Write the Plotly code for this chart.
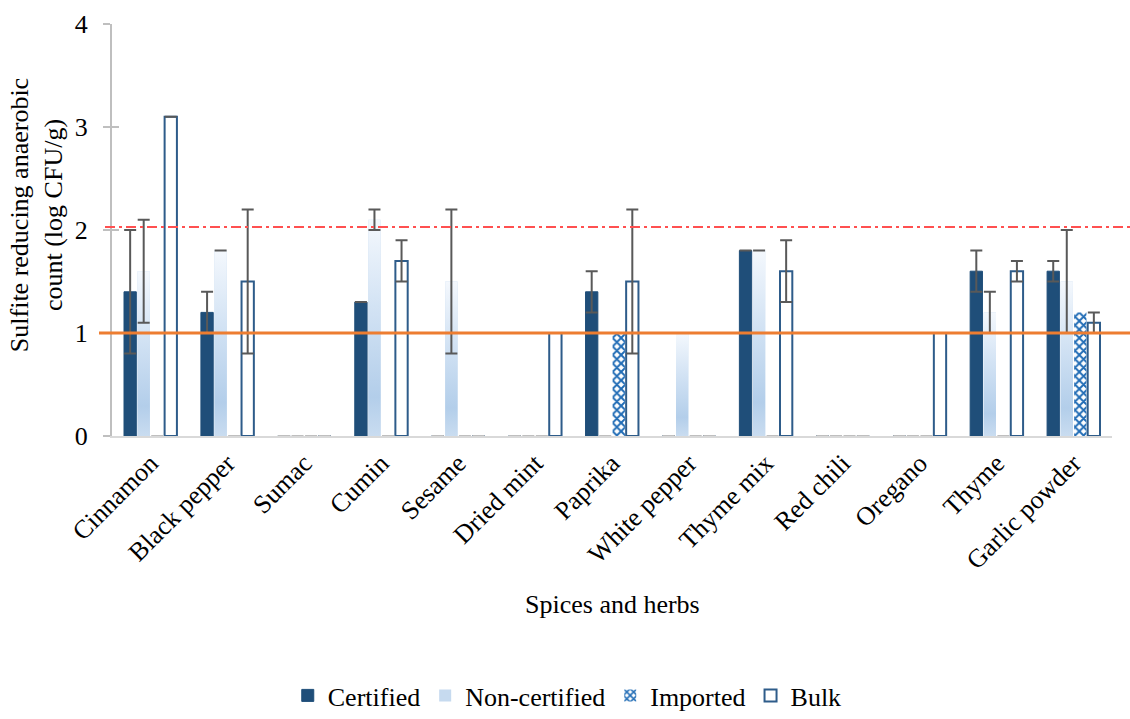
import plotly.graph_objects as go

# ---- data -------------------------------------------------------------
categories = ["Cinnamon", "Black pepper", "Sumac", "Cumin", "Sesame", "Dried mint",
              "Paprika", "White pepper", "Thyme mix", "Red chili", "Oregano",
              "Thyme", "Garlic powder"]

certified = [1.4, 1.2, 0, 1.3, 0, 0, 1.4, 0, 1.8, 0, 0, 1.6, 1.6]
certified_sd = [0.6, 0.2, None, 0, None, None, 0.2, None, 0, None, None, 0.2, 0.1]

non_certified = [1.6, 1.8, 0, 2.1, 1.5, 0, 0, 1.0, 1.8, 0, 0, 1.2, 1.5]
non_certified_sd = [0.5, 0, None, 0.1, 0.7, None, None, None, 0, None, None, 0.2, 0.5]

imported = [0, 0, 0, 0, 0, 0, 1.0, 0, 0, 0, 0, 0, 1.2]
imported_sd = [None] * 13

bulk = [3.1, 1.5, 0, 1.7, 0, 1.0, 1.5, 0, 1.6, 0, 1.0, 1.6, 1.1]
bulk_sd = [0, 0.7, None, 0.2, None, None, 0.7, None, 0.3, None, None, 0.1, 0.1]

detection_limit = 1.0
reference_limit = 2.03

y_ticks = [0, 1, 2, 3, 4]

# ---- styling ------------------------------------------------------------
FONT = "Liberation Serif"
TXT = dict(family=FONT, size=26, color="black")
NAVY = "#1F4E79"
BULK_EDGE = "#2E5C8A"
CHECK = "#1F6BB5"
ERR = "#595959"
STUB = "#BFBFBF"
AXIS = "#BFBFBF"

BAR_W = 0.16
PITCH = 0.176
START = -0.344
idx = list(range(len(categories)))

series = [
    ("Certified", certified, certified_sd),
    ("Non-certified", non_certified, non_certified_sd),
    ("Imported", imported, imported_sd),
    ("Bulk", bulk, bulk_sd),
]

fig = go.Figure()

for k, (name, vals, sd) in enumerate(series):
    off = START + k * PITCH
    if name == "Certified":
        marker = dict(color=NAVY, line=dict(color=NAVY, width=1))
    elif name == "Non-certified":
        marker = dict(color="#C6DAEF", line=dict(width=0))
    elif name == "Imported":
        marker = dict(color="white", line=dict(width=0),
                      pattern=dict(shape="x", fgcolor=CHECK, bgcolor="white",
                                   fgopacity=1, size=6, solidity=0.55,
                                   fillmode="replace"))
    else:
        marker = dict(color="white", line=dict(color=BULK_EDGE, width=2))
    fig.add_trace(go.Bar(
        x=idx, y=vals, name=name, offset=off, width=BAR_W,
        marker=marker, hoverinfo="skip",
    ))

# vertical white-to-blue gradient fill of each non-certified bar
nc_off = START + 1 * PITCH
for i, v in zip(idx, non_certified):
    if v <= 0:
        continue
    x0, x1 = i + nc_off, i + nc_off + BAR_W
    fig.add_trace(go.Scatter(
        x=[x0, x1, x1, x0, x0], y=[0, 0, v, v, 0],
        mode="lines", fill="toself", line=dict(width=0, color="rgba(0,0,0,0)"),
        fillgradient=dict(type="vertical", start=0, stop=v,
                          colorscale=[[0, "#C9DCF0"], [0.18, "#B3CEEA"],
                                      [0.6, "#D3E3F4"], [1, "#F4F8FD"]]),
        showlegend=False, hoverinfo="skip",
    ))

# error bars (drawn on top of the bars) and baseline stubs for zero values
for k, (name, vals, sd) in enumerate(series):
    centre = START + k * PITCH + BAR_W / 2
    ex = [i + centre for i, s in zip(idx, sd) if s is not None]
    ey = [v for v, s in zip(vals, sd) if s is not None]
    es = [s for s in sd if s is not None]
    if ex:
        fig.add_trace(go.Scatter(
            x=ex, y=ey, mode="markers", marker=dict(size=1, opacity=0),
            error_y=dict(type="data", array=es, symmetric=True,
                         color=ERR, thickness=2, width=6),
            showlegend=False, hoverinfo="skip",
        ))
    zx = [i + centre for i, v in zip(idx, vals) if v == 0]
    if zx:
        fig.add_trace(go.Scatter(
            x=zx, y=[0] * len(zx), mode="markers", marker=dict(size=1, opacity=0),
            error_y=dict(type="data", array=[0] * len(zx), color=STUB,
                         thickness=2, width=6),
            showlegend=False, hoverinfo="skip",
        ))

# helper trace so the inner tick axis is drawn
fig.add_trace(go.Scatter(x=[0], y=[0], yaxis="y2", mode="markers",
                         marker=dict(size=1, opacity=0),
                         showlegend=False, hoverinfo="skip"))

# limit lines
fig.add_shape(type="line", xref="paper", yref="y", x0=-0.013, x1=1.02,
              y0=detection_limit, y1=detection_limit,
              line=dict(color="#ED7D31", width=3))
fig.add_shape(type="line", xref="paper", yref="y", x0=-0.007, x1=1.02,
              y0=reference_limit, y1=reference_limit,
              line=dict(color="#FF5050", width=2, dash="10px,4px,3px,4px"))

fig.update_layout(
    width=1130, height=719,
    margin=dict(l=112, r=18, t=24, b=283, autoexpand=False),
    paper_bgcolor="white", plot_bgcolor="white",
    barmode="overlay",
    font=TXT,
    showlegend=True,
    legend=dict(orientation="h", xref="container", yref="container",
                x=0.502, xanchor="center", y=-0.01, yanchor="bottom",
                font=TXT, itemwidth=30, borderwidth=0,
                traceorder="normal", bgcolor="rgba(0,0,0,0)"),
    xaxis=dict(range=[-0.5, 12.5], tickvals=idx, ticktext=categories,
               tickangle=-45, showgrid=False, zeroline=False, ticks="",
               showline=True, linecolor="#D9D9D9", linewidth=1.5,
               tickfont=TXT, automargin=False),
    yaxis=dict(range=[0, 4], tickvals=y_ticks, showgrid=False, zeroline=False,
               showline=True, linecolor=AXIS, linewidth=2,
               ticks="outside", ticklen=7, tickwidth=2, tickcolor=AXIS,
               ticklabelstandoff=10, tickfont=TXT, automargin=False),
    yaxis2=dict(range=[0, 4], tickvals=y_ticks, overlaying="y", side="left",
                anchor="x", showgrid=False, zeroline=False, showline=False,
                ticks="inside", ticklen=7, tickwidth=2, tickcolor=AXIS,
                showticklabels=False, automargin=False),
    annotations=[
        dict(text="Sulfite reducing anaerobic<br>count (log CFU/g)",
             xref="paper", yref="paper", x=-0.076, y=0.536,
             xanchor="center", yanchor="middle", textangle=-90,
             showarrow=False, font=TXT),
        dict(text="Spices and herbs", xref="paper", yref="paper",
             x=0.5, y=-0.41, xanchor="center", yanchor="middle",
             showarrow=False, font=TXT),
    ],
)

fig.write_html("out.html")
